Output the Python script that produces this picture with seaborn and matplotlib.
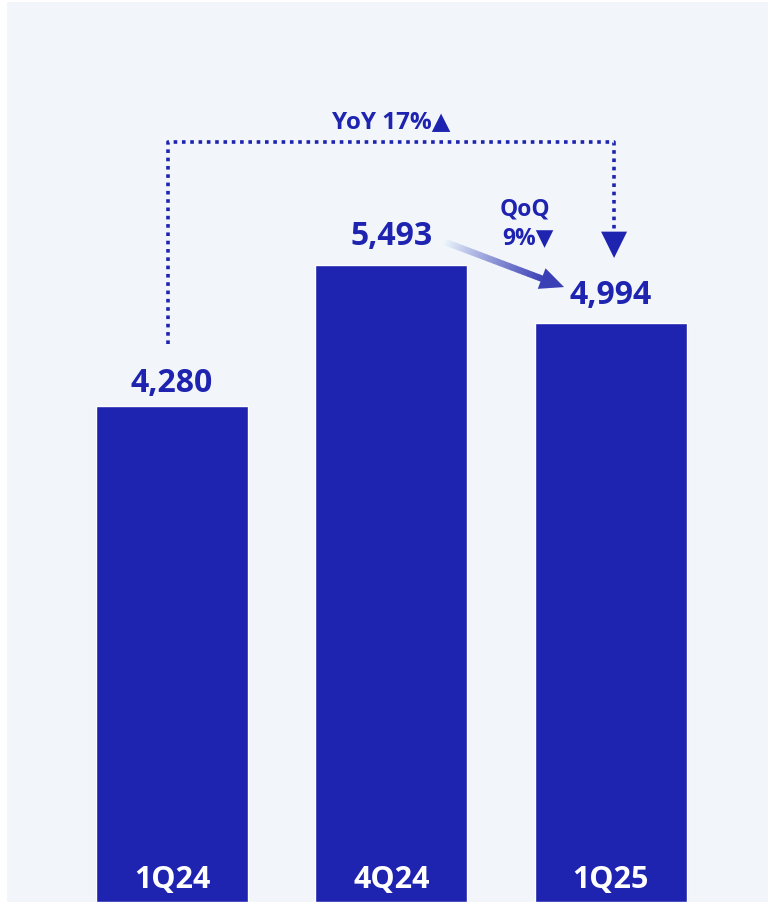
import numpy as np
import pandas as pd
import seaborn as sns
import matplotlib.pyplot as plt
from matplotlib.collections import LineCollection
from matplotlib.colors import to_rgba

quarters = ['1Q24', '4Q24', '1Q25']
values = [4280, 5493, 4994]
value_labels = ['4,280', '5,493', '4,994']
yoy_text = 'YoY 17%▲'
qoq_text = ['QoQ', '9%▼']

blue = '#1e24b0'
panel = '#f2f6fa'

sns.set_theme(style='white')
plt.rcParams['font.family'] = ['Open Sans', 'DejaVu Sans']

fig = plt.figure(figsize=(7.68, 9.02), dpi=100, facecolor='white')
ax = fig.add_axes([7 / 768, 0, 761 / 768, 900 / 902])
ax.set_facecolor(panel)

df = pd.DataFrame({'quarter': quarters, 'value': values})
sns.barplot(data=df, x='quarter', y='value', color=blue, saturation=1,
            width=0.693, ax=ax)

ax.set_xlim(-0.7526, 2.718)
ax.set_ylim(0, 7760)
ax.set_xlabel('')
ax.set_ylabel('')
ax.set_xticks([])
ax.set_yticks([])
for s in ax.spines.values():
    s.set_visible(False)

# value labels above bars
offsets = [120, 175, 165]
for i, (v, lab) in enumerate(zip(values, value_labels)):
    ax.text(i, v + offsets[i], lab, ha='center', va='baseline', color=blue,
            fontsize=23, fontweight='bold')
    # quarter label inside bar
    ax.text(i, 190, quarters[i], ha='center', va='center', color='white',
            fontsize=22, fontweight='bold')

# YoY dotted connector
xu = 219.25  # pixels per category
top_y = 6555
ax.plot([-0.02, -0.02, 2.016, 2.016], [4810, top_y, top_y, 5800], color=blue,
        lw=2.6, dashes=(1, 1.3), solid_capstyle='butt', dash_capstyle='butt')
hw = 13 / xu
ax.fill([2.016 - hw, 2.016 + hw, 2.016], [5780, 5780, 5553], color=blue, lw=0)
ax.text(1.0, top_y + 115, yoy_text, ha='center', va='baseline', color=blue,
        fontsize=17.5, fontweight='bold')

# QoQ text
ax.text(1.61, 5975, qoq_text[0], ha='center', va='center', color=blue,
        fontsize=16.5, fontweight='bold')
ax.text(1.625, 5725, qoq_text[1], ha='center', va='center', color=blue,
        fontsize=16.5, fontweight='bold')

# gradient QoQ arrow
fig.canvas.draw()
p0 = ax.transData.transform((1.245, 5691))
p1 = ax.transData.transform((1.788, 5302))
d = (p1 - p0) / np.linalg.norm(p1 - p0)
nrm = np.array([-d[1], d[0]])
head_len = 24
head_w = 11
base = p1 - d * head_len
n = 80
pts = np.linspace(0, 1, n + 1)
segs = [[p0 + (base - p0) * pts[k], p0 + (base - p0) * pts[k + 1] + d * 0.5]
        for k in range(n)]
c0 = np.array(to_rgba('#eaf5fc'))
c1 = np.array(to_rgba('#3a3fb6'))
cols = [c0 + (c1 - c0) * (pts[k] ** 0.9) for k in range(n)]
lc = LineCollection(segs, colors=cols, linewidths=4.6, capstyle='butt',
                    transform=None)
ax.add_collection(lc)
head = np.array([p1, base + nrm * head_w, base - nrm * head_w])
ax.fill(head[:, 0], head[:, 1], color='#3a3fb6', lw=0, transform=None)

fig.savefig('out.png', dpi=100, facecolor='white')
